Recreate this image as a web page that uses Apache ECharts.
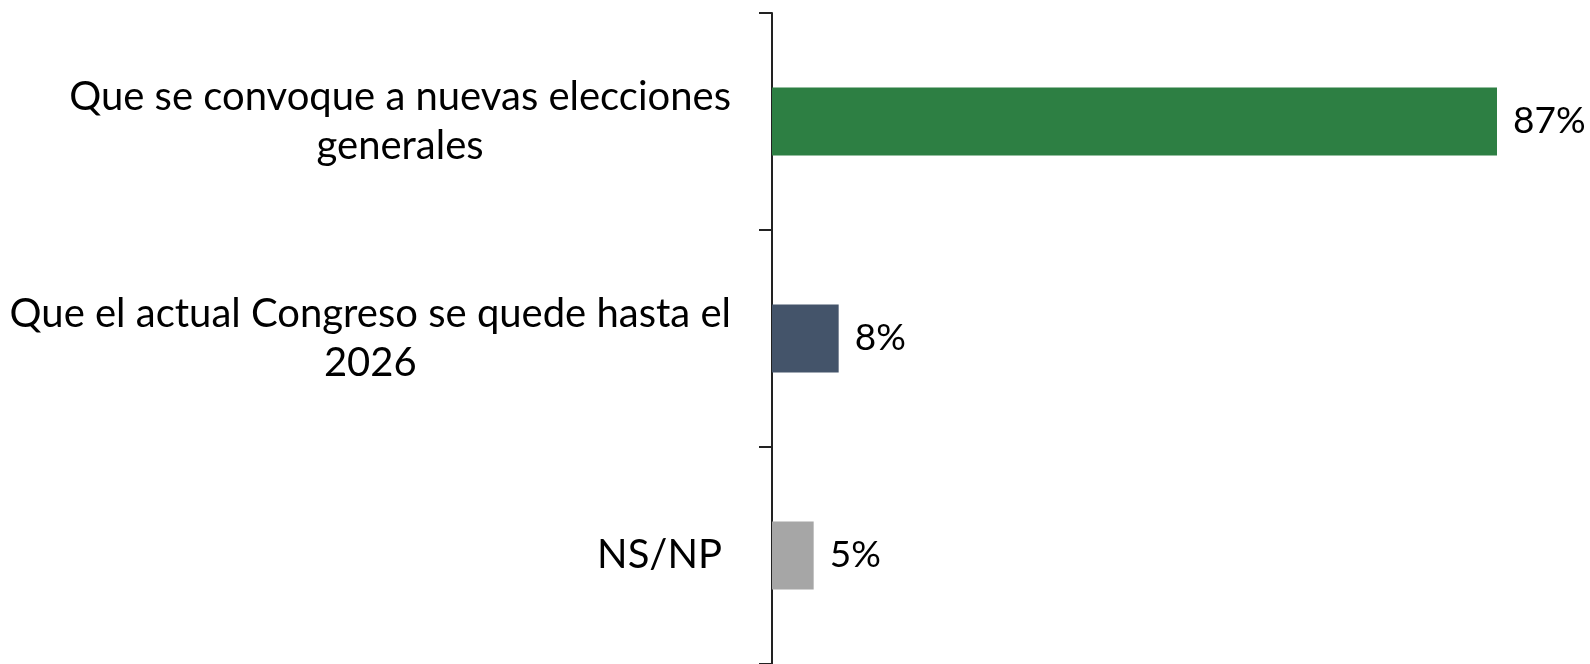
<!DOCTYPE html>
<html>
<head>
<meta charset="utf-8">
<script src="https://cdn.jsdelivr.net/npm/echarts@6/dist/echarts.min.js"></script>
<style>
  html, body { margin: 0; padding: 0; background: #fff; }
  #main { width: 1590px; height: 664px; }
</style>
</head>
<body>
<div id="main"></div>
<script>
// 数据
var categories = ['Que se convoque a nuevas elecciones\ngenerales', 'Que el actual Congreso se quede hasta el\n2026', 'NS/NP'];
var values = [87, 8, 5];
var barColors = ['#2D7F43', '#44546A', '#A6A6A6'];

var myChart = echarts.init(document.getElementById('main'));

var option = {
    animation: false,
    grid: { left: 772, top: 13, width: 750, height: 651, outerBoundsMode: 'none' },
    xAxis: {
        type: 'value',
        min: 0,
        max: 90,
        show: false
    },
    yAxis: {
        type: 'category',
        inverse: true,
        data: categories,
        axisLine: { lineStyle: { color: '#222', width: 2 } },
        axisTick: { show: true, length: 13, lineStyle: { color: '#222', width: 2 } },
        axisLabel: {
            margin: 41,
            color: '#000',
            fontFamily: 'Lato',
            fontSize: 40,
            lineHeight: 49,
            formatter: function (v) {
                var lines = v.split('\n');
                if (lines.length === 1) return '{s|' + v + '}';
                return lines.map(function (s) { return '{c|' + s + '}'; }).join('\n');
            },
            rich: {
                c: { align: 'center', fontFamily: 'Lato', fontSize: 40, lineHeight: 49, color: '#000' },
                s: { fontFamily: 'Lato', fontSize: 40, lineHeight: 49, color: '#000', padding: [0, 9, 0, 0] }
            }
        }
    },
    series: [{
        type: 'bar',
        barWidth: 68,
        data: values.map(function (v, i) {
            return { value: v, itemStyle: { color: barColors[i] } };
        }),
        label: {
            show: true,
            position: 'right',
            distance: 16,
            formatter: '{c}%',
            color: '#000',
            fontFamily: 'Lato',
            fontSize: 37
        }
    }]
};

myChart.setOption(option);
</script>
</body>
</html>
